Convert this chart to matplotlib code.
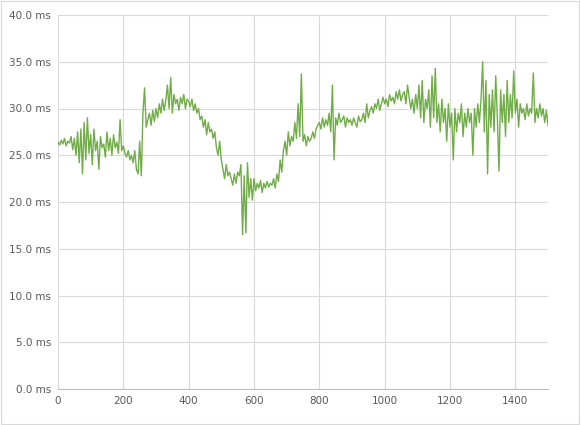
import matplotlib.pyplot as plt
import numpy as np

# samples every 5 units along x (0..1500)
step = 5
latency_ms = [
    26.4, 26.1, 26.6, 26.2, 26.8, 26.0, 26.5, 26.3, 27.0, 25.6, 26.8, 25.0, 27.5, 24.2, 27.8, 23.0, 28.5, 24.5, 29.0, 25.2,
    27.2, 24.0, 27.8, 25.5, 26.5, 23.5, 27.0, 25.8, 26.2, 24.8, 27.5, 25.5, 26.8, 25.0, 27.2, 25.8, 26.4, 25.2, 28.8, 25.5,
    26.0, 25.2, 24.8, 25.5, 24.5, 25.0, 24.2, 25.5, 23.5, 23.0, 26.5, 22.8, 29.5, 32.2, 28.0, 28.8, 29.5, 28.2, 29.8, 28.6,
    30.0, 29.0, 30.5, 29.5, 31.0, 29.8, 30.8, 32.5, 30.0, 33.3, 29.5, 31.5, 30.5, 31.0, 29.8, 31.2, 30.5, 31.5, 30.0, 31.0,
    30.8, 30.2, 31.0, 29.8, 30.5, 29.5, 30.0, 28.8, 29.2, 28.0, 28.8, 27.2, 28.5, 27.5, 27.8, 26.8, 27.5, 25.8, 25.0, 26.5,
    24.5, 23.5, 22.5, 24.0, 22.8, 23.2, 22.5, 21.8, 23.0, 22.0, 23.2, 22.8, 24.0, 16.5, 22.8, 16.7, 24.2, 20.5, 22.5, 20.2,
    22.5, 21.2, 22.0, 21.5, 22.3, 21.0, 22.0, 21.5, 22.2, 21.6, 22.0, 21.8, 22.5, 21.5, 23.0, 22.2, 24.5, 23.2, 25.5, 26.5,
    25.0, 27.5, 26.0, 27.0, 26.5, 28.5, 26.8, 30.5, 27.0, 33.7, 26.5, 27.2, 26.0, 27.0, 26.5, 26.8, 27.5, 26.8, 27.8, 28.2,
    28.5, 27.8, 29.0, 28.0, 28.8, 28.2, 29.5, 27.5, 32.5, 24.5, 29.0, 28.2, 29.5, 28.5, 28.8, 29.2, 28.0, 29.0, 28.5, 28.8,
    28.2, 29.0, 28.5, 28.0, 29.2, 28.6, 28.8, 29.5, 28.5, 30.5, 29.0, 29.8, 30.2, 29.5, 30.5, 30.0, 31.0, 29.8, 30.5, 31.2,
    30.5, 31.0, 30.2, 31.5, 30.8, 31.2, 30.5, 31.8, 31.0, 32.0, 30.8, 31.5, 31.8, 30.5, 32.5, 31.2, 30.0, 31.0, 29.5, 31.5,
    30.0, 32.5, 29.0, 33.0, 28.5, 31.0, 30.0, 32.0, 28.0, 33.5, 29.0, 34.3, 28.5, 30.5, 27.5, 31.0, 28.5, 30.0, 26.5, 30.5,
    28.0, 29.5, 24.5, 30.0, 27.5, 29.5, 28.5, 30.5, 27.0, 29.5, 28.0, 30.0, 28.5, 29.5, 25.0, 30.0, 28.0, 30.5, 28.5, 31.0,
    35.0, 27.5, 33.0, 23.0, 31.5, 28.0, 32.0, 27.5, 33.5, 29.0, 23.3, 32.0, 28.5, 31.5, 27.0, 33.0, 28.5, 31.5, 29.0, 34.0,
    29.5, 31.0, 28.0, 30.5, 29.5, 30.0, 28.8, 30.5, 29.2, 30.0, 29.5, 33.8, 28.5, 30.0, 29.0, 30.5, 29.2, 30.0, 28.5, 29.8,
    28.2,
]
x = np.arange(len(latency_ms)) * step

fig = plt.figure(figsize=(5.81, 4.25), dpi=100)
ax = fig.add_axes([58 / 581, 1 - 389 / 425, 490 / 581, 374 / 425])
fig.patches.append(plt.Rectangle((0.002, 0.002), 0.995, 0.995, transform=fig.transFigure,
                                 fill=False, edgecolor="#d9d9d9", linewidth=0.8))

ax.plot(x, latency_ms, color="#70ad47", linewidth=1.0)
ax.set_xlim(0, 1500)
ax.set_ylim(0, 40)
ax.set_xticks(range(0, 1401, 200))
ax.set_yticks(np.arange(0, 41, 5))
ax.set_yticklabels([f"{v:.1f} ms" for v in np.arange(0, 41, 5)])
ax.grid(True, color="#d9d9d9", linewidth=0.8)
ax.set_axisbelow(True)
for side in ("top", "right", "left"):
    ax.spines[side].set_visible(False)
ax.spines["bottom"].set_color("#bfbfbf")
ax.tick_params(length=0, labelsize=7.5, labelcolor="#595959", pad=5)

fig.savefig("out.png", dpi=100)
